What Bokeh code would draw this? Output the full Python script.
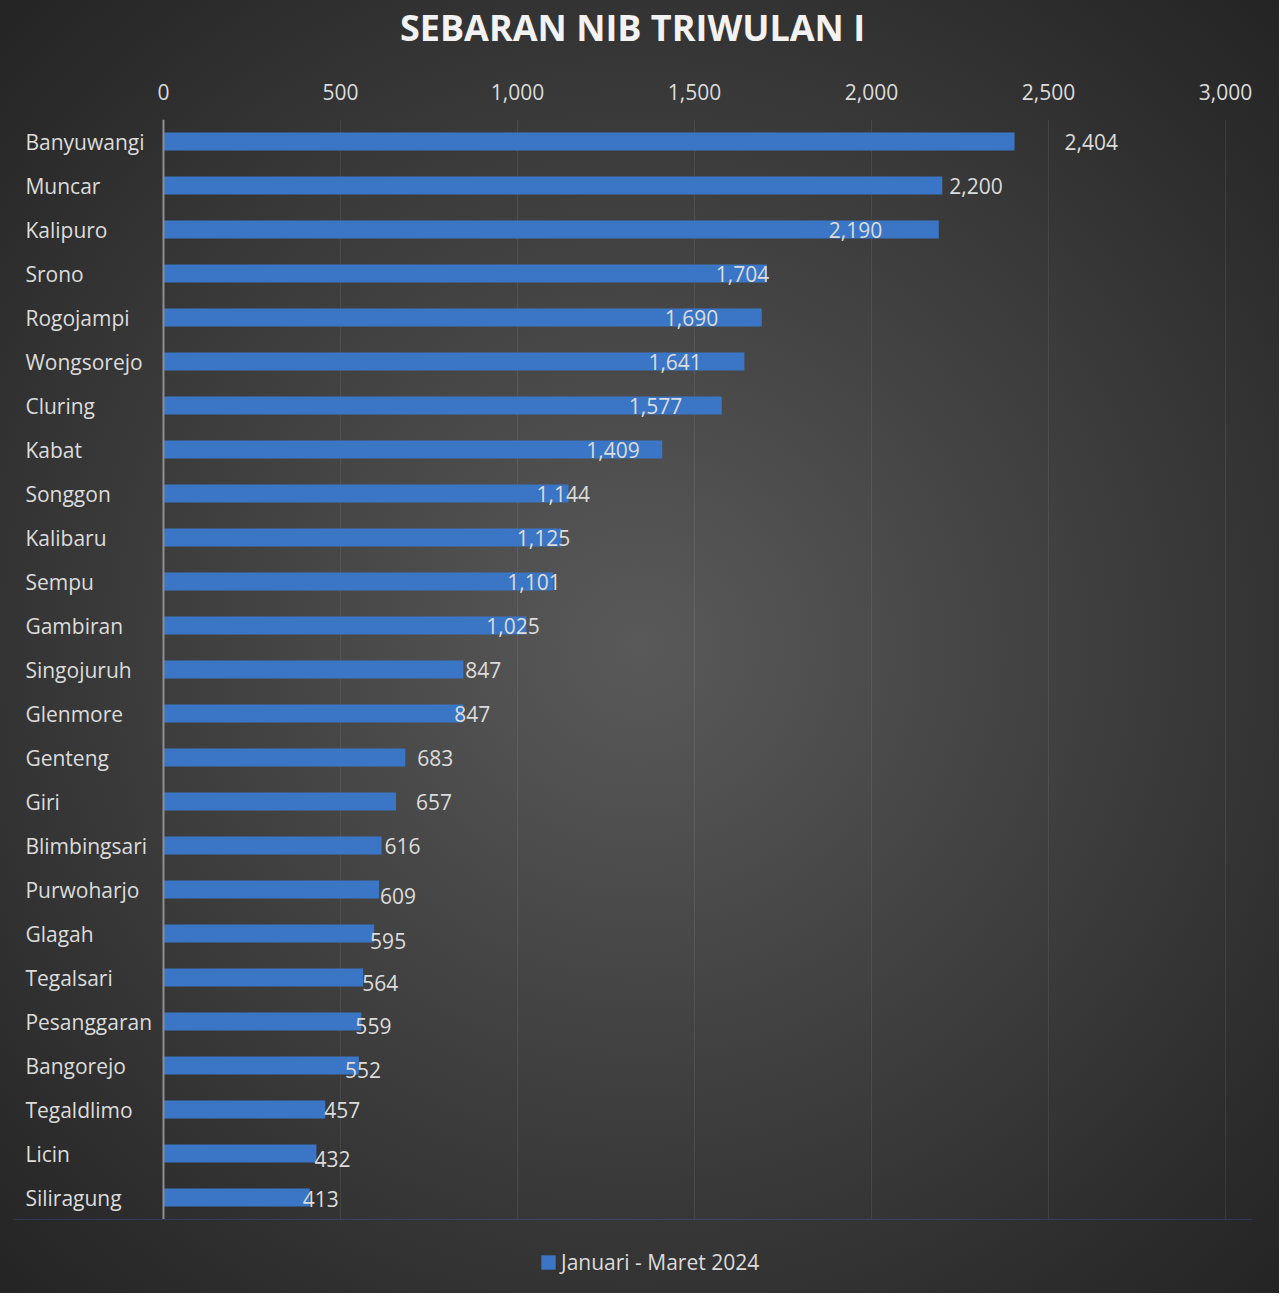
from bokeh.plotting import figure
from bokeh.layouts import column
from bokeh.models import (Range1d, FactorRange, FixedTicker, NumeralTickFormatter,
                          Span, Legend, LegendItem, ColumnDataSource, Title)
from bokeh.core.properties import value
from bokeh.embed import file_html
from bokeh.resources import INLINE

# ---------------- data ----------------
categories = ["Banyuwangi", "Muncar", "Kalipuro", "Srono", "Rogojampi", "Wongsorejo",
              "Cluring", "Kabat", "Songgon", "Kalibaru", "Sempu", "Gambiran",
              "Singojuruh", "Glenmore", "Genteng", "Giri", "Blimbingsari", "Purwoharjo",
              "Glagah", "Tegalsari", "Pesanggaran", "Bangorejo", "Tegaldlimo", "Licin",
              "Siliragung"]
values = [2404, 2200, 2190, 1704, 1690, 1641, 1577, 1409, 1144, 1125, 1101, 1025,
          847, 847, 683, 657, 616, 609, 595, 564, 559, 552, 457, 432, 413]
tick_values = [0, 500, 1000, 1500, 2000, 2500, 3000]
series_name = "Januari - Maret 2024"
title_text = "SEBARAN NIB TRIWULAN I"

# label placement tweaks (screen px), as in the original chart
label_dx = [50, 7, -110, -51, -97, -96, -93, -76, -32, -45, -46, -40,
            2, -9, 12, 20, 3, 1, -4, -1, -6, -14, -1, -2, -7]
label_dy = [0, 0, 0, 0, 0, 0, 0, 0, 0, 0, 0, 0,
            0, 0, 0, 0, 0, 6, 7, 5, 4, 4, 0, 5, 1]

FONT = "Open Sans"
TEXT = "#dcdcdc"
BAR = "#3a76c5"

src = ColumnDataSource(dict(
    cat=categories,
    val=values,
    lbl=[f"{v:,}" for v in values],
    dx=label_dx,
    dy=label_dy,
))

W = 1279
H_MAIN = 1219
H_LEG = 74

p = figure(width=W, height=H_MAIN, output_backend="svg", toolbar_location=None,
           x_range=Range1d(-426.5, 3076.3),
           y_range=FactorRange(factors=list(reversed(categories))),
           x_axis_location="above", y_axis_location=None,
           min_border_left=12, min_border_right=27,
           min_border_top=119, min_border_bottom=0)

p.background_fill_alpha = 0
p.border_fill_alpha = 0
p.outline_line_color = None

# title
p.title.text = title_text
p.title.align = "center"
p.title.text_font = FONT
p.title.text_font_size = "36px"
p.title.text_font_style = "bold"
p.title.text_color = "#f2f2f2"
p.title.standoff = 0

# top axis
ticker = FixedTicker(ticks=tick_values)
ax = p.xaxis[0]
ax.ticker = ticker
ax.formatter = NumeralTickFormatter(format="0,0")
ax.axis_line_color = None
ax.major_tick_line_color = None
ax.minor_tick_line_color = None
ax.major_label_text_font = FONT
ax.major_label_text_font_size = "21px"
ax.major_label_text_color = TEXT
ax.major_label_standoff = 14

# blank spacer between the tick labels and the title
p.add_layout(Title(text=" ", text_font_size="10px", standoff=16), "above")

p.xgrid.ticker = ticker
p.xgrid.grid_line_color = "#ffffff"
p.xgrid.grid_line_alpha = 0.08
p.ygrid.visible = False

# bars
p.hbar(y="cat", left=0, right="val", height=0.41, source=src,
       fill_color=BAR, line_color=None)

# zero line
p.add_layout(Span(location=0, dimension="height", line_color="#8f8f8f", line_width=2))

# category labels (left aligned as in the original)
p.text(x=-390, y="cat", text="cat", source=src, text_align="left", text_baseline="middle",
       text_font=value(FONT), text_font_size="21px", text_color=TEXT)

# data labels
p.text(x="val", y="cat", text="lbl", x_offset="dx", y_offset="dy", source=src,
       text_align="left", text_baseline="middle",
       text_font=value(FONT), text_font_size="21px", text_color=TEXT)

# ---------------- legend strip ----------------
p2 = figure(width=W, height=H_LEG, output_backend="svg", toolbar_location=None,
            x_range=Range1d(0, 1), y_range=Range1d(0, 1),
            x_axis_location=None, y_axis_location=None,
            min_border_left=0, min_border_right=0, min_border_top=0, min_border_bottom=0)
p2.background_fill_alpha = 0
p2.border_fill_alpha = 0
p2.outline_line_color = None
p2.xgrid.visible = False
p2.ygrid.visible = False
# legend key renderer: one bar kept outside the visible range of this strip
key = p2.hbar(y=[5], left=[0], right=[1], height=0.5, fill_color=BAR, line_color=None)

legend = Legend(items=[LegendItem(label=series_name, renderers=[key])],
                location=(527, 17), orientation="horizontal",
                background_fill_alpha=0, border_line_color=None,
                glyph_width=18, glyph_height=18, label_standoff=4,
                padding=0, margin=0,
                label_text_font=FONT, label_text_font_size="21px", label_text_color=TEXT)
p2.add_layout(legend)

layout = column(p, p2, spacing=0)
layout.styles = {"background": "radial-gradient(circle at 50% 50%, #595959 0px, #515151 150px, "
                               "#444444 360px, #373737 580px, #2c2c2c 760px, #222222 950px)"}

open("out.html", "w").write(file_html(layout, INLINE))
